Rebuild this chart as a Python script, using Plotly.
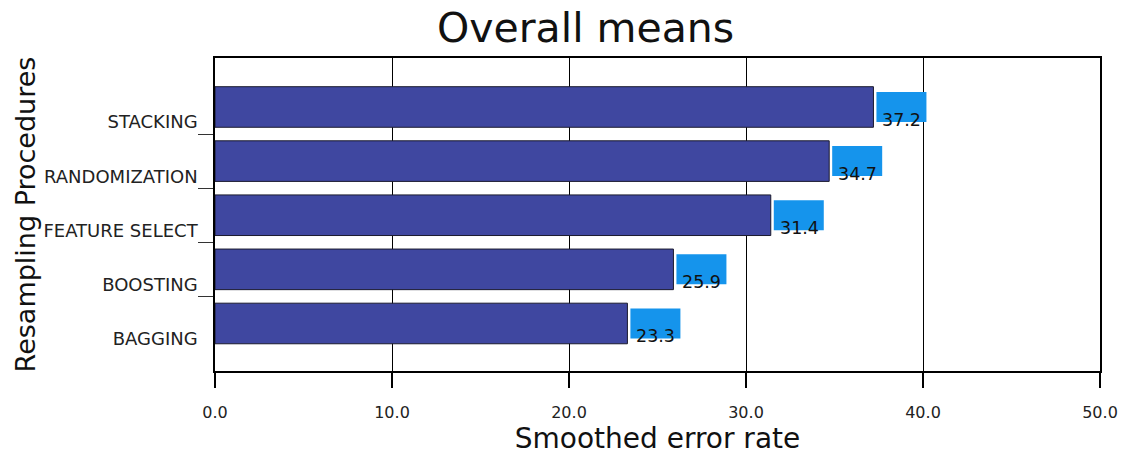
import plotly.graph_objects as go

categories = ["BAGGING", "BOOSTING", "FEATURE SELECT", "RANDOMIZATION", "STACKING"]
values = [23.3, 25.9, 31.4, 34.7, 37.2]
x_tick_vals = [0, 10, 20, 30, 40, 50]
x_tick_text = ["0.0", "10.0", "20.0", "30.0", "40.0", "50.0"]

positions = list(range(len(categories)))
label_offset = 0.28
boundaries = [p + 0.5 for p in positions[:-1]]

BAR_COLOR = "#3f47a0"
BOX_COLOR = "#1594ec"
FONT = "DejaVu Sans"

fig = go.Figure()
fig.add_trace(go.Bar(
    x=values, y=positions, orientation="h", width=0.75,
    marker=dict(color=BAR_COLOR, line=dict(color="#1a1a2e", width=1)),
    hoverinfo="skip", showlegend=False,
))

shapes = []
annotations = []
for p, v in zip(positions, values):
    shapes.append(dict(
        type="rect", layer="above",
        xref="x", xsizemode="pixel", xanchor=v, x0=3, x1=53,
        yref="y", ysizemode="pixel", yanchor=p, y0=-15, y1=15,
        fillcolor=BOX_COLOR, line=dict(width=0),
    ))
    annotations.append(dict(
        x=v, y=p, xref="x", yref="y", text=f"{v:.1f}", showarrow=False,
        xanchor="left", yanchor="middle", xshift=7, yshift=-13,
        font=dict(family=FONT, size=17.5, color="#111"),
    ))

fig.update_layout(
    width=1124, height=455,
    margin=dict(l=215, r=24, t=58, b=84),
    paper_bgcolor="white", plot_bgcolor="white",
    font=dict(family=FONT, color="#222"),
    title=dict(text="Overall means", x=0.521, xref="container", xanchor="center",
               y=0.94, yref="container", yanchor="middle",
               font=dict(family=FONT, size=41, color="#111")),
    shapes=shapes, annotations=annotations,
    bargap=0.25,
)
fig.update_xaxes(
    range=[0, 50], tickvals=x_tick_vals, ticktext=x_tick_text,
    showgrid=True, gridcolor="black", gridwidth=1,
    showline=True, linecolor="black", linewidth=1.5, mirror=True,
    ticks="outside", ticklen=15, tickcolor="black", tickwidth=1.5,
    ticklabelstandoff=11, tickfont=dict(family=FONT, size=16, color="#222"),
    title=dict(text="Smoothed error rate", font=dict(family=FONT, size=28, color="#111"), standoff=6),
    zeroline=False, automargin=False,
)
fig.update_yaxes(
    range=[-0.878, 4.905],
    tickvals=[p - label_offset for p in positions], ticktext=categories,
    ticks="outside", ticklen=12, tickcolor="rgba(0,0,0,0)",
    minor=dict(tickmode="array", tickvals=boundaries, ticks="outside", ticklen=15,
               tickcolor="#333", tickwidth=1, showgrid=False),
    showgrid=False, zeroline=False,
    showline=True, linecolor="black", linewidth=1.5, mirror=True,
    tickfont=dict(family=FONT, size=18, color="#222"),
    title=dict(text="Resampling Procedures", font=dict(family=FONT, size=27, color="#111"), standoff=0),
    automargin=False,
)

fig.write_html("out.html", config={"displayModeBar": False},
               post_script="document.body.style.margin='0';")
